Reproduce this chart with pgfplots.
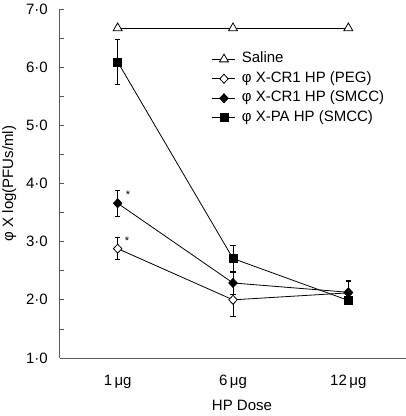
\documentclass[border=0pt]{standalone}
\usepackage{pgfplots}
\pgfplotsset{compat=1.18}
\usepackage{fontspec}
\setmainfont{Liberation Sans}
\begin{document}
\fontsize{15bp}{18bp}\selectfont
\begin{tikzpicture}
\useasboundingbox (-60bp,-58bp) rectangle (346bp,358bp);
\begin{axis}[
  at={(0,0)}, anchor=south west,
  scale only axis,
  width=346bp, height=349bp,
  xmin=-0.5, xmax=2.5,
  ymin=1, ymax=7,
  axis lines=left,
  axis line style={-, black!65, line width=1bp},
  tick align=inside,
  xtick={0,1,2},
  xticklabels={1\,μg,6\,μg,12\,μg},
  xtick style={draw=none},
  minor xtick={0.5,1.5},
  minor x tick style={black!65, line width=0.8bp},
  ytick={1,2,3,4,5,6,7},
  yticklabels={1·0,2·0,3·0,4·0,5·0,6·0,7·0},
  minor ytick={1.5,2.5,3.5,4.5,5.5,6.5},
  ytick style={black!65, line width=0.8bp},
  minor y tick style={black!65, line width=0.8bp},
  major tick length=4bp, minor tick length=4bp,
  xticklabel style={anchor=base, inner sep=0pt, yshift=-27bp},
  yticklabel style={anchor=east, inner sep=0pt, xshift=-12bp},
  xlabel={HP Dose},
  xlabel style={at={(axis description cs:0.526,-0.149)}, anchor=base, inner sep=0pt},
  ylabel={φ X log(PFUs/ml)},
  ylabel style={at={(axis description cs:-0.147,0.5)}, anchor=center, inner sep=0pt},
  clip=false,
  every axis plot/.append style={black, line width=0.8bp},
  error bars/error bar style={black, line width=0.8bp},
  error bars/error mark options={rotate=90, mark size=2.5bp, line width=0.8bp},
  legend image code/.code={\draw[mark repeat=2,mark phase=2] plot coordinates {(0bp,0bp)(11.5bp,0bp)(23bp,0bp)};},
  legend cell align=left,
  legend style={at={(axis description cs:0.439,0.878)}, anchor=north west,
    draw=none, fill=none, inner sep=0pt, row sep=4.5bp, column sep=6bp,
    nodes={inner sep=0pt, text height=11bp, text depth=4bp}},
]
\addplot[mark=triangle*, mark size=5.2bp, mark options={fill=white, solid}]
  coordinates {(0,6.67) (1,6.67) (2,6.67)};
\addlegendentry{Saline}
\addplot[mark=diamond*, mark size=4.5bp, mark options={fill=white, xscale=1.25},
  error bars/.cd, y dir=both, y explicit]
  coordinates {(0,2.88) +- (0,0.19) (1,2.0) +- (0,0.28) (2,2.12) +- (0,0.2)};
\addlegendentry{φ X-CR1 HP (PEG)}
\addplot[mark=diamond*, mark size=4.5bp, mark options={fill=black, xscale=1.25},
  error bars/.cd, y dir=both, y explicit]
  coordinates {(0,3.66) +- (0,0.22) (1,2.29) +- (0,0.2) (2,2.13) +- (0,0.2)};
\addlegendentry{φ X-CR1 HP (SMCC)}
\addplot[mark=square*, mark size=4bp, mark options={fill=black},
  error bars/.cd, y dir=both, y explicit]
  coordinates {(0,6.09) +- (0,0.39) (1,2.71) +- (0,0.23) (2,1.99) +- (0,0.05)};
\addlegendentry{φ X-PA HP (SMCC)}
\node[font=\fontsize{11bp}{12bp}\selectfont] at (axis cs:0.09,3.80) {*};
\node[font=\fontsize{11bp}{12bp}\selectfont] at (axis cs:0.08,3.02) {*};
\end{axis}
\end{tikzpicture}
\end{document}
